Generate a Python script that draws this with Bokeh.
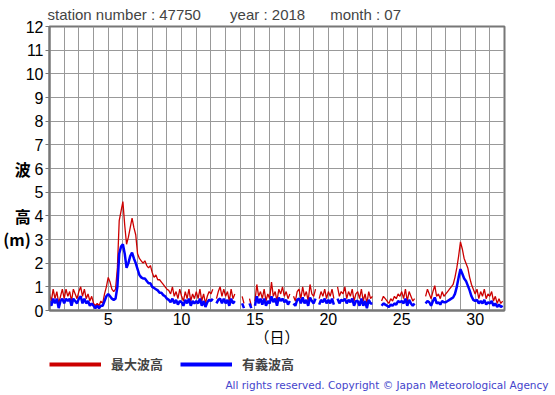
import numpy as np
from bokeh.plotting import figure
from bokeh.layouts import column
from bokeh.models import Legend, LegendItem, FixedTicker, Title, Range1d
from bokeh.embed import file_html
from bokeh.resources import INLINE

nan = float("nan")

# 3-hourly values, 8 per day, days 1..31
max_wave = [
    0.7, 0.4, 0.9, 0.5, 0.8, 0.3, 0.6, 0.9,   # 1
    0.5, 0.9, 0.6, 0.8, 0.4, 0.9, 0.7, 0.5,   # 2
    0.8, 1.0, 0.6, 0.9, 0.5, 0.7, 0.4, 0.6,   # 3
    0.3, 0.2, 0.3, 0.2, 0.4, 0.3, 0.7, 1.0,   # 4
    1.4, 1.2, 0.9, 0.8, 0.9, 1.8, 3.8, 4.2,   # 5
    4.6, 3.6, 2.8, 3.1, 3.5, 3.9, 3.5, 3.2,   # 6
    2.4, 2.2, 2.1, 2.0, 2.1, 1.9, 1.8, 1.9,   # 7
    1.6, 1.4, 1.5, 1.3, 1.3, 1.2, 1.1, 1.0,   # 8
    0.9, 0.85, 0.7, 1.0, 0.6, 0.8, 0.5, 0.9,  # 9
    0.6, 0.4, 0.8, 0.5, 0.9, 0.4, 0.7, 0.5,   # 10
    0.8, 0.5, 0.9, 0.4, 0.7, 0.3, 0.6, 0.8,   # 11
    0.7, 0.9, nan, 0.5, 0.8, 1.0, 0.6, 0.9,   # 12
    0.6, 0.8, 0.4, 0.9, 0.5, 0.7, nan, nan,   # 13
    nan, 0.6, 0.3, nan, nan, 0.5, 0.2, nan,   # 14
    0.4, 1.1, 0.6, 0.8, 0.5, 0.9, 0.4, 0.7,   # 15
    0.5, 1.2, 0.6, 0.8, 0.4, 0.9, 0.7, 1.0,   # 16
    0.6, 0.8, 0.5, 0.7, nan, 0.6, 0.4, 0.8,   # 17
    0.9, 0.5, 1.0, 0.6, 0.8, 0.4, 1.1, 0.7,   # 18
    0.6, 0.9, nan, 0.5, 0.8, 0.6, 0.9, 0.5,   # 19
    0.8, 0.6, 0.9, 0.5, nan, 1.0, 0.6, 0.8,   # 20
    0.7, 1.0, 0.5, 0.8, 0.6, 0.9, 0.4, 0.7,   # 21
    0.8, 0.5, 0.9, 0.4, 0.7, 0.3, 0.8, 0.5,   # 22
    0.6, nan, nan, nan, nan, 0.4, 0.6, 0.5,   # 23
    0.4, 0.3, 0.5, 0.4, 0.6, 0.5, 0.7, 0.6,   # 24
    0.8, 0.5, 0.9, 0.4, 0.8, 0.6, 0.4, 0.5,   # 25
    nan, nan, 0.4, nan, nan, 0.6, 0.9, 0.7,   # 26
    0.5, 0.8, 1.05, 0.6, 0.7, 0.5, 0.8, 0.6,  # 27
    0.7, 0.8, 0.9, 1.0, 1.1, 1.4, 1.8, 2.3,   # 28
    2.9, 2.6, 2.2, 2.0, 1.8, 1.4, 1.1, 0.9,   # 29
    0.7, 0.9, 0.5, 0.8, 0.6, 0.9, 0.5, 0.7,   # 30
    0.6, 0.8, 0.4, 0.6, 0.3, 0.5, 0.3, 0.4,   # 31
]
sig_wave = [
    0.4, 0.2, 0.5, 0.3, 0.5, 0.1, 0.4, 0.5,
    0.3, 0.5, 0.4, 0.5, 0.2, 0.5, 0.4, 0.3,
    0.5, 0.6, 0.3, 0.5, 0.3, 0.4, 0.2, 0.3,
    0.2, 0.1, 0.2, 0.1, 0.2, 0.2, 0.4, 0.6,
    0.7, 0.6, 0.5, 0.45, 0.5, 1.0, 2.4, 2.7,
    2.8, 2.4, 1.8, 2.0, 2.3, 2.45, 2.2, 2.0,
    1.75, 1.5, 1.4, 1.35, 1.35, 1.25, 1.15, 1.15,
    1.0, 0.95, 0.9, 0.85, 0.75, 0.75, 0.65, 0.6,
    0.5, 0.45, 0.35, 0.5, 0.3, 0.45, 0.25, 0.4,
    0.35, 0.2, 0.45, 0.3, 0.5, 0.2, 0.4, 0.3,
    0.4, 0.3, 0.5, 0.2, 0.4, 0.15, 0.35, 0.45,
    0.4, 0.5, nan, 0.3, 0.45, 0.5, 0.3, 0.5,
    0.3, 0.45, 0.2, 0.5, 0.3, 0.4, nan, nan,
    nan, 0.3, 0.1, nan, nan, 0.3, 0.1, nan,
    0.2, 0.6, 0.3, 0.5, 0.25, 0.5, 0.2, 0.4,
    0.3, 0.6, 0.35, 0.5, 0.2, 0.55, 0.4, 0.5,
    0.35, 0.45, 0.25, 0.4, nan, 0.3, 0.2, 0.45,
    0.5, 0.3, 0.55, 0.3, 0.45, 0.2, 0.55, 0.4,
    0.3, 0.5, nan, 0.25, 0.45, 0.35, 0.5, 0.3,
    0.45, 0.3, 0.5, 0.25, nan, 0.5, 0.3, 0.45,
    0.4, 0.5, 0.3, 0.45, 0.35, 0.5, 0.2, 0.4,
    0.4, 0.2, 0.5, 0.2, 0.4, 0.1, 0.45, 0.3,
    0.3, nan, nan, nan, nan, 0.2, 0.3, 0.25,
    0.2, 0.15, 0.25, 0.2, 0.3, 0.25, 0.4, 0.35,
    0.4, 0.3, 0.5, 0.2, 0.45, 0.3, 0.2, 0.3,
    nan, nan, 0.2, nan, nan, 0.3, 0.4, 0.35,
    0.2, 0.4, 0.55, 0.3, 0.35, 0.25, 0.4, 0.35,
    0.35, 0.4, 0.45, 0.5, 0.55, 0.7, 1.0, 1.4,
    1.75, 1.55, 1.35, 1.25, 1.05, 0.85, 0.6, 0.45,
    0.4, 0.45, 0.3, 0.4, 0.3, 0.45, 0.25, 0.35,
    0.3, 0.4, 0.2, 0.3, 0.15, 0.25, 0.15, 0.2,
]
# time axis: day of month (3-hour steps)
days = 1 + np.arange(len(max_wave)) / 8.0

x_ticks = [5, 10, 15, 20, 25, 30]
y_ticks = list(range(0, 13))
NB = "\u00a0"
title_text = "station number : 47750" + NB * 7 + "year : 2018" + NB * 6 + "month : 07"
legend_labels = ["最大波高", "有義波高"]
copyright_text = "All rights reserved. Copyright © Japan Meteorological Agency"

W = 555
FL, FT, FW, FH = 46, 26, 455, 284
BOT = 44            # space below the frame in the main figure
H2 = 395 - FT - FH - BOT   # height of the footer strip

p = figure(frame_width=FW, frame_height=FH, x_range=(1, 32), y_range=(0, 12),
           output_backend="svg", toolbar_location=None,
           min_border_left=FL, min_border_top=FT,
           min_border_right=W - FL - FW, min_border_bottom=BOT)
p.background_fill_color = "white"
p.border_fill_color = "white"
p.outline_line_color = "#777777"
p.outline_line_width = 2

p.title.text = title_text
p.title.text_font = "Liberation Sans"
p.title.text_font_size = "15px"
p.title.text_font_style = "normal"
p.title.align = "left"
p.title.offset = -2
p.title.standoff = 7

p.xaxis.ticker = FixedTicker(ticks=x_ticks)
p.yaxis.ticker = FixedTicker(ticks=y_ticks)
p.xgrid.ticker = FixedTicker(ticks=list(range(1, 33)))
p.ygrid.ticker = FixedTicker(ticks=y_ticks)
for g in (p.xgrid, p.ygrid):
    g.grid_line_color = "#999999"
    g.grid_line_width = 1
for ax in (p.xaxis, p.yaxis):
    ax.axis_line_color = "#777777"
    ax.axis_line_width = 2
    ax.major_tick_line_color = "#777777"
    ax.minor_tick_line_color = None
    ax.major_label_text_font = "Liberation Sans"
    ax.major_label_text_font_size = "16px"
    ax.major_label_text_color = "black"
    ax.axis_label_text_font = "Noto Sans CJK JP"
    ax.axis_label_text_font_style = "normal"
    ax.axis_label_text_color = "black"
p.xaxis.major_tick_out = 0
p.xaxis.major_tick_in = 0
p.xaxis.major_label_standoff = 2
p.xaxis.axis_label = "（日）"
p.xaxis.axis_label_text_font_size = "15px"
p.xaxis.axis_label_standoff = -2

p.yaxis.major_tick_out = 4
p.yaxis.major_tick_in = 0
p.yaxis.major_label_standoff = 2
p.yaxis.axis_label = "\n\n\n波\n\n高\n(m)"
p.yaxis.axis_label_orientation = "horizontal"
p.yaxis.axis_label_text_font_size = "16px"
p.yaxis.axis_label_text_font_style = "bold"
p.yaxis.axis_label_text_line_height = 0.98
p.yaxis.axis_label_standoff = -8

p.line(days, max_wave, line_color="#cc0000", line_width=1.3)
p.line(days, sig_wave, line_color="#0000ff", line_width=2.5)

# footer strip: legend (in its frame) and copyright (in its lower panel)
F_BOT = 19
f = figure(width=W, height=H2, x_range=Range1d(0, 1), y_range=Range1d(0, 1),
           output_backend="svg", toolbar_location=None,
           x_axis_type=None, y_axis_type=None,
           min_border_left=FL, min_border_right=W - FL - FW,
           min_border_top=0, min_border_bottom=F_BOT)
f.outline_line_color = None
f.xgrid.visible = False
f.ygrid.visible = False
f.background_fill_color = "white"
f.border_fill_color = "white"

# legend swatch renderers (kept outside the visible ranges)
r_max = f.line([5, 6], [5, 6], line_color="#cc0000", line_width=4)
r_sig = f.line([5, 6], [5, 6], line_color="#0000ff", line_width=4)
legend = Legend(items=[LegendItem(label=legend_labels[0], renderers=[r_max]),
                       LegendItem(label=legend_labels[1], renderers=[r_sig])],
                location=(0, 3), orientation="horizontal",
                glyph_width=52, glyph_height=16, label_standoff=10, spacing=17,
                padding=0, margin=0, border_line_alpha=0, background_fill_alpha=0,
                label_text_font="Noto Sans CJK JP", label_text_font_size="13px",
                label_text_font_style="bold", label_height=16)
f.add_layout(legend, "center")
f.add_layout(Title(text=copyright_text, align="right", text_font="DejaVu Sans",
                   text_font_size="10.5px", text_font_style="normal",
                   text_color="#4444cc", offset=-47, standoff=0), "below")

open("out.html", "w").write(file_html(column(p, f, spacing=0), INLINE))
